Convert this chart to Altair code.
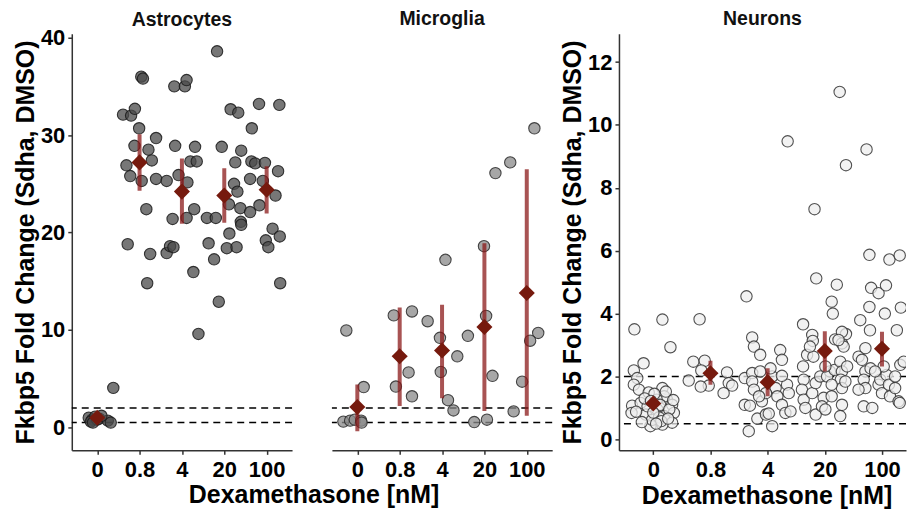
import json
import altair as alt
import pandas as pd

doses = ["0", "0.8", "4", "20", "100"]
ref_lines = [0.5, 2.0]
y_title = "Fkbp5 Fold Change (Sdha, DMSO)"
x_title = "Dexamethasone [nM]"

# ---------------- Astrocytes (x = dose position incl. jitter, 1..5) ----------------
astro_x = [0.80, 0.88, 0.95, 1.05, 1.25, 1.32, 0.85, 1.00, 1.10, 0.90, 1.38,
           2.04, 2.08, 1.61, 1.80, 1.89, 1.99, 2.39, 1.88, 2.21, 1.69, 2.29, 1.78, 2.05, 2.39, 2.16, 1.72, 2.25, 2.18,
           2.82, 3.07, 3.11, 2.84, 3.31, 2.64, 2.92, 3.13, 3.20, 3.35, 3.29, 2.78, 3.11, 2.64, 2.72, 2.80, 3.27, 3.39,
           3.83, 3.94, 3.59, 3.80, 4.15, 4.33, 4.40, 4.26, 4.23, 4.31, 4.11, 4.38, 4.39, 4.40, 4.12, 3.63, 4.06, 4.29, 3.76, 3.87,
           4.82, 5.30, 4.65, 4.64, 4.73, 4.96, 5.27, 4.61, 4.91, 5.21, 4.61, 4.83, 5.14, 5.31, 4.98, 5.04, 5.32]
astro_y = [1.0, 0.8, 1.1, 0.9, 0.7, 0.5, 0.6, 0.8, 1.2, 0.5, 4.06,
           36.0, 35.8, 32.1, 32.0, 32.7, 30.7, 29.7, 28.9, 28.5, 26.9, 27.4, 25.8, 25.3, 25.5, 22.4, 18.8, 17.8, 14.8,
           35.0, 35.0, 35.65, 28.9, 28.8, 25.3, 25.9, 25.15, 27.3, 27.3, 22.4, 21.4, 21.5, 17.9, 18.6, 18.5, 15.95, 9.6,
           38.6, 28.8, 21.5, 21.5, 32.65, 32.3, 28.4, 27.2, 25.0, 24.2, 22.9, 22.5, 21.1, 20.8, 19.9, 18.9, 18.4, 18.5, 17.25, 12.9,
           33.2, 33.1, 30.7, 27.3, 27.1, 27.15, 26.3, 25.5, 25.3, 23.8, 22.1, 22.8, 20.4, 19.6, 19.2, 18.5, 14.8]
astro_mean = [1.0, 27.2, 24.2, 23.8, 24.4]
astro_lo = [0.7, 24.3, 20.9, 21.0, 21.95]
astro_hi = [1.3, 30.1, 27.6, 26.6, 26.8]

# ---------------- Microglia ----------------
micro_x = [0.67, 0.83, 0.94, 1.09, 1.10, 0.74, 1.15,
           1.86, 2.29, 2.21, 1.91, 2.29,
           2.66, 3.08, 2.95, 3.36, 2.97, 3.14, 3.27,
           3.99, 4.26, 4.04, 3.61, 4.19, 4.06, 3.76,
           5.18, 4.61, 5.27, 5.08, 4.89, 4.69]
micro_y = [0.6, 0.7, 0.8, 0.7, 0.5, 9.95, 4.15,
           11.5, 11.9, 5.65, 4.2, 3.2,
           10.9, 17.2, 9.2, 7.3, 5.7, 2.8, 1.75,
           18.6, 26.1, 11.45, 9.4, 5.3, 0.8, 0.55,
           30.7, 27.2, 9.7, 8.9, 4.7, 1.65]
micro_mean = [2.1, 7.3, 7.9, 10.3, 13.8]
micro_lo = [-0.4, 2.2, 3.0, 1.7, 1.2]
micro_hi = [4.4, 12.3, 12.6, 18.9, 26.5]

# ---------------- Neurons ----------------
neuron_x = [0.67, 1.16, 1.30, 0.83, 0.66, 0.72, 0.66, 0.75, 0.92, 1.16, 0.63, 0.62, 0.78, 0.87, 0.95, 1.07, 1.19,
            1.24, 1.33, 1.36, 1.33, 1.16, 1.19, 1.06, 0.90, 0.98, 1.02, 1.12, 1.28, 0.80, 1.10, 1.22, 0.70, 1.00,
            1.14, 1.26, 0.85, 1.35, 0.96, 1.05,
            1.81, 1.70, 1.90, 1.62, 1.84, 1.97, 2.29, 2.32, 2.38, 2.23, 1.83,
            2.63, 2.73, 2.76, 2.87, 2.67, 3.22, 3.25, 2.60, 2.73, 2.73, 2.76, 2.60, 2.69, 2.82, 2.97, 3.02, 3.08,
            2.90, 3.08, 3.14, 3.17, 3.25, 3.31, 3.40, 3.34, 3.37, 3.25, 3.05, 2.87, 2.97, 2.85, 3.35,
            3.82, 3.85, 4.21, 4.12, 4.26, 4.37, 4.14, 3.62, 3.78, 3.79, 4.18, 4.30, 4.37, 3.69, 3.80, 3.62, 3.63,
            3.60, 3.63, 3.66, 3.84, 3.78, 3.84, 3.92, 3.98, 3.95, 4.01, 4.12, 4.09, 4.04, 4.17, 4.27, 4.30, 4.28,
            4.30, 4.30, 4.27, 4.39, 4.36, 4.12, 4.01, 3.74, 4.30, 4.33, 4.24,
            4.73, 4.78, 5.13, 5.31, 4.81, 4.94, 5.07, 4.78, 5.05, 5.33, 4.62, 4.79, 5.26, 4.59, 4.65, 4.71, 4.80,
            4.68, 4.71, 4.68, 4.83, 4.94, 4.97, 5.08, 5.00, 5.14, 5.12, 5.23, 5.29, 5.23, 5.32, 5.38, 5.03, 4.88,
            4.59, 4.71, 5.31]
neuron_y = [3.50, 3.81, 2.93, 2.42, 2.19, 1.95, 1.74, 1.58, 1.49, 1.63, 1.07, 0.84, 1.16, 0.79, 0.42, 0.95, 0.74,
            1.26, 1.10, 0.84, 0.53, 0.47, 1.37, 1.26, 1.05, 0.62, 1.45, 1.10, 0.95, 0.55, 0.70, 1.52, 0.88, 0.85,
            0.58, 0.66, 1.30, 1.25, 1.22, 0.50,
            3.82, 2.47, 2.50, 1.87, 2.19, 1.71, 2.13, 1.79, 1.71, 1.47, 1.68,
            4.55, 3.24, 2.95, 2.69, 0.26, 2.84, 2.53, 1.95, 2.11, 1.84, 1.58, 1.10, 1.07, 0.66, 0.79, 0.82, 0.42,
            1.21, 2.00, 1.63, 1.37, 1.10, 0.84, 0.89, 1.74, 1.47, 2.02, 2.26, 2.16, 1.47, 1.37, 9.48,
            7.32, 5.12, 4.92, 4.38, 11.05, 8.72, 4.00, 3.66, 3.32, 3.13, 3.18, 3.05, 3.35, 2.69, 2.63, 2.32, 1.90,
            1.58, 1.26, 1.00, 0.79, 1.47, 1.79, 2.00, 1.32, 1.05, 0.95, 1.37, 2.16, 2.00, 2.21, 2.47, 2.16, 1.90,
            1.63, 1.10, 0.74, 2.32, 1.84, 1.74, 2.32, 2.95, 3.42, 2.95, 3.16,
            9.22, 5.87, 5.72, 5.85, 4.82, 4.65, 4.90, 4.21, 4.00, 4.19, 3.79, 3.47, 3.47, 2.63, 2.53, 2.16, 2.26,
            1.90, 1.63, 1.05, 1.00, 1.74, 1.90, 2.05, 1.47, 1.37, 1.74, 1.63, 1.21, 2.00, 2.37, 2.47, 2.32, 2.16,
            1.58, 2.90, 1.16]
neuron_mean = [1.14, 2.10, 1.82, 2.81, 2.88]
neuron_lo = [1.00, 1.74, 1.37, 2.16, 2.32]
neuron_hi = [1.28, 2.50, 2.26, 3.44, 3.42]

FONT = "Liberation Sans"
label_expr = json.dumps(doses) + "[datum.value - 1]"


def panel(px, py, mean, lo, hi, title, ydom, yticks, fill, stroke, show_y, xt, width, xdom, toff,
          xtitle_x=None):
    pts = pd.DataFrame({"x": px, "y": py})
    summ = pd.DataFrame({"x": list(range(1, len(doses) + 1)), "y": mean, "lo": lo, "hi": hi})
    refs = pd.DataFrame({"y": ref_lines})

    xscale = alt.Scale(domain=xdom, nice=False, zero=False)
    yscale = alt.Scale(domain=ydom, nice=False, zero=False)
    xkw = dict(values=list(range(1, len(doses) + 1)), labelExpr=label_expr, title=xt,
               grid=False, labelPadding=5, titlePadding=3)
    if xtitle_x is not None:
        xkw["titleX"] = xtitle_x
    xaxis = alt.Axis(**xkw)
    if show_y:
        yaxis = alt.Axis(values=yticks, title=y_title, grid=False, labelPadding=3, titlePadding=2)
    else:
        yaxis = None

    X = alt.X("x:Q", scale=xscale, axis=xaxis)
    Y = alt.Y("y:Q", scale=yscale, axis=yaxis)

    rules = alt.Chart(refs).mark_rule(color="black", strokeDash=[7, 5], strokeWidth=1.5).encode(
        y=alt.Y("y:Q", scale=yscale, axis=yaxis))
    points = alt.Chart(pts).mark_point(filled=True, shape="circle", size=130, fill=fill,
                                       fillOpacity=0.75, stroke=stroke, strokeWidth=1.1,
                                       strokeOpacity=0.85, clip=True).encode(x=X, y=Y)
    bars = alt.Chart(summ).mark_rule(color="#8b1a1a", strokeWidth=4, opacity=0.75, clip=True).encode(
        x=X, y=alt.Y("lo:Q", scale=yscale, axis=yaxis), y2="hi:Q")
    diam = alt.Chart(summ).mark_point(shape="diamond", filled=True, size=260, color="#761a0e",
                                      opacity=1, clip=True).encode(x=X, y=Y)
    return alt.layer(rules, points, bars, diam).properties(
        width=width, height=418,
        title=alt.TitleParams(title, fontSize=19.5, fontWeight="bold", font=FONT, anchor="middle",
                              frame="group", offset=toff, color="#111"))


astro = panel(astro_x, astro_y, astro_mean, astro_lo, astro_hi, "Astrocytes",
              [-2.35, 40.4], [0, 10, 20, 30, 40], "#4a4a4a", "#1a1a1a", True, None, 221, [0.4, 5.6], -4)
micro = panel(micro_x, micro_y, micro_mean, micro_lo, micro_hi, "Microglia",
              [-2.35, 40.4], [0, 10, 20, 30, 40], "#8a8a8a", "#2a2a2a", False, None, 221, [0.4, 5.6], 4)
neur = panel(neuron_x, neuron_y, neuron_mean, neuron_lo, neuron_hi, "Neurons",
             [-0.35, 12.9], [0, 2, 4, 6, 8, 10, 12], "#eeeeee", "#333333", True, x_title, 288,
             [0.4, 5.42], 4, xtitle_x=148)

left = alt.hconcat(astro, micro, spacing=38).properties(
    title=alt.TitleParams(x_title, orient="bottom", anchor="middle", fontSize=25, dx=31,
                          fontWeight="bold", font=FONT, color="black", offset=3))
chart = alt.hconcat(left, neur, spacing=7).properties(
    padding={"left": 5, "top": 0, "right": 0, "bottom": 0}
).configure(background="white").configure_view(stroke=None).configure_axis(
    labelFont=FONT, labelFontSize=22, labelFontWeight="bold", labelColor="black",
    titleFont=FONT, titleFontSize=25, titleFontWeight="bold", titleColor="black",
    domainColor="#333333", domainWidth=1.5, tickColor="#333333", tickWidth=1.5, tickSize=4,
)

chart.save("out.html", embed_options={"renderer": "svg", "actions": False})
